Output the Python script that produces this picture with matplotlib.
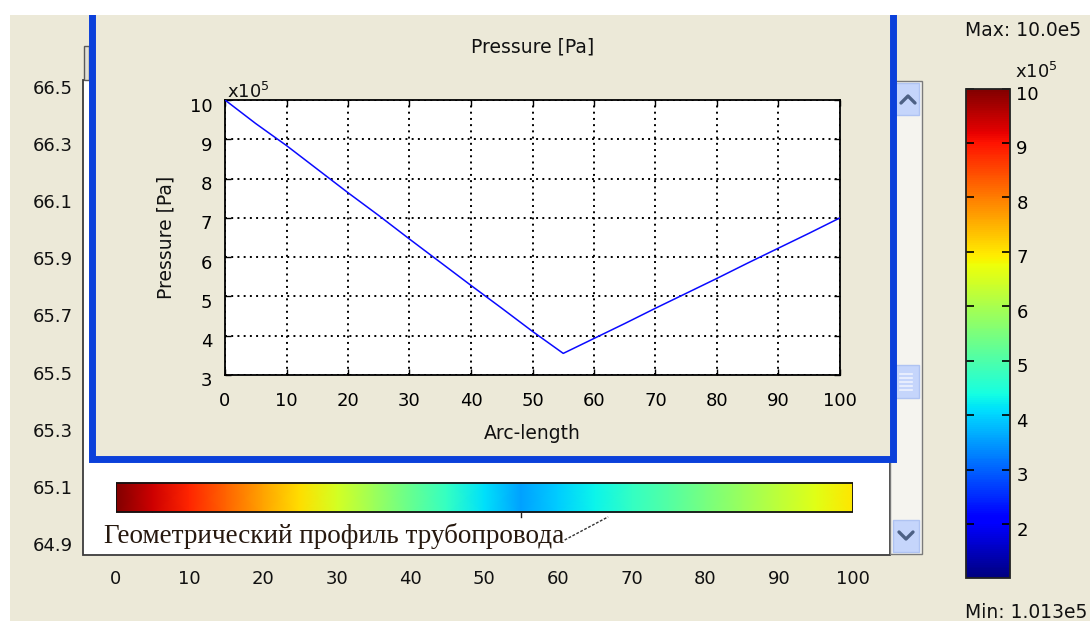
import numpy as np
import matplotlib
matplotlib.use('Agg')
import matplotlib.pyplot as plt
from matplotlib.patches import Rectangle
from matplotlib.colors import Normalize
from matplotlib.cm import ScalarMappable
from matplotlib.transforms import ScaledTranslation

# ---------------- data ----------------
arc_length = [0, 5, 10, 15, 20, 25, 30, 35, 40, 45, 50, 55,
              60, 65, 70, 75, 80, 85, 90, 95, 100]
pressure_e5 = [10.00, 9.40, 8.84, 8.24, 7.64, 7.06, 6.46, 5.87, 5.28, 4.70, 4.11, 3.55,
               3.93, 4.31, 4.70, 5.08, 5.46, 5.85, 6.23, 6.61, 7.00]

inner_xticks = [0, 10, 20, 30, 40, 50, 60, 70, 80, 90, 100]
inner_yticks = [3, 4, 5, 6, 7, 8, 9, 10]
outer_xticks = [0, 10, 20, 30, 40, 50, 60, 70, 80, 90, 100]
outer_yticks = [64.9, 65.1, 65.3, 65.5, 65.7, 65.9, 66.1, 66.3, 66.5]
cbar_ticks = [2, 3, 4, 5, 6, 7, 8, 9, 10]
p_min_e5 = 1.013
p_max_e5 = 10.0

plot_title = 'Pressure [Pa]'
x_label = 'Arc-length'
y_label = 'Pressure [Pa]'
pipe_label = 'Геометрический профиль трубопровода'
max_text = 'Max: 10.0e5'
min_text = 'Min: 1.013e5'

# ---------------- figure ----------------
plt.rcParams['font.family'] = ['DejaVu Sans']
W, H = 1090, 621
BEIGE = '#ECE9D8'
BLUE = '#0B40DA'
fig = plt.figure(figsize=(W / 100, H / 100), dpi=100)
fig.patch.set_facecolor(BEIGE)


def fpos(x0, y0, x1, y1):
    return [x0 / W, 1 - y1 / H, (x1 - x0) / W, (y1 - y0) / H]


# background chrome (pixel coordinates)
bg = fig.add_axes([0, 0, 1, 1], zorder=0)
bg.set_xlim(0, W)
bg.set_ylim(H, 0)
bg.axis('off')
bg.add_patch(Rectangle((0, 0), W, H, fc=BEIGE, ec='none', zorder=0))

# white outer panel
bg.add_patch(Rectangle((83, 80), 890 - 83, 555 - 80, fc='white', ec='#3c3c3c', lw=1.3, zorder=1))
bg.add_patch(Rectangle((84, 46), 5, 34, fc='#E2E0D6', ec='#5a5a5a', lw=1.0, zorder=1))

# scrollbar
bg.add_patch(Rectangle((890, 81), 32, 473, fc='#F5F4EF', ec='#7a7a7a', lw=1.0, zorder=2))
for (yy, hh) in [(83, 32), (365, 33), (520, 32)]:
    bg.add_patch(Rectangle((893, yy), 26, hh, fc='#C5D5FB', ec='#AFC3F2', lw=1.0, zorder=3))
bg.plot([901, 908, 915], [103, 96, 103], color='#4D6185', lw=2.4, zorder=4, solid_capstyle='round')
bg.plot([899, 906, 913], [532, 539, 532], color='#4D6185', lw=2.4, zorder=4, solid_capstyle='round')
for yy in [374, 378, 382, 386, 390]:
    bg.plot([900, 912], [yy, yy], color='#EEF3FE', lw=1.2, zorder=4)

# inset frame
bg.add_patch(Rectangle((92, 15), 892.5 - 92, 459 - 15, fc=BEIGE, ec='none', zorder=5))
bg.plot([92, 92, 892.5, 892.5], [15, 459, 459, 15], color=BLUE, lw=5.0,
        solid_joinstyle='miter', zorder=6)

# white strips at top/left
bg.add_patch(Rectangle((0, 0), W, 15, fc='white', ec='none', zorder=10))
bg.add_patch(Rectangle((0, 0), 10, H, fc='white', ec='none', zorder=10))

# texts for colorbar
bg.text(965, 30, max_text, fontsize=13.5, ha='left', va='center', color='#111111', zorder=11)
bg.text(965, 612, min_text, fontsize=13.5, ha='left', va='center', color='#111111', zorder=11)
bg.text(1015, 78, r'x10$^{5}$', fontsize=13, ha='left', va='baseline', color='#111111', zorder=11)

norm = Normalize(vmin=p_min_e5, vmax=p_max_e5)
cmap = plt.get_cmap('jet')

# ---------------- outer axes ----------------
ax_o = fig.add_axes(fpos(115.5, 87, 853, 544), zorder=1)
ax_o.set_facecolor('none')
ax_o.set_xlim(0, 100)
ax_o.set_ylim(64.9, 66.5)
for s in ax_o.spines.values():
    s.set_visible(False)
ax_o.set_xticks(outer_xticks)
ax_o.set_xticklabels([str(v) for v in outer_xticks])
ax_o.set_yticks(outer_yticks)
ax_o.set_yticklabels(['%.1f' % v for v in outer_yticks])
ax_o.tick_params(axis='x', length=0, pad=19, labelsize=13, labelcolor='#111111')
ax_o.tick_params(axis='y', length=0, pad=31, labelsize=13, labelcolor='#111111')

# pipe profile bar coloured by pressure
bar_bot, bar_top = 65.012, 65.1136
xa = np.asarray(arc_length, dtype=float)
pa = np.asarray(pressure_e5, dtype=float)
X = np.vstack([xa, xa])
Y = np.vstack([np.full_like(xa, bar_bot), np.full_like(xa, bar_top)])
C = np.vstack([pa, pa])
ax_o.pcolormesh(X, Y, C, cmap=cmap, norm=norm, shading='gouraud', zorder=2)
ax_o.add_patch(Rectangle((xa[0], bar_bot), xa[-1] - xa[0], bar_top - bar_bot,
                         fill=False, ec='#111111', lw=1.3, zorder=3))
x_min_p = xa[int(np.argmin(pa))]
ax_o.plot([x_min_p, x_min_p], [bar_bot, bar_bot - 0.018], color='#222222', lw=1.0, zorder=3)
ax_o.text(-1.5, 64.903, pipe_label, family=['Liberation Serif', 'DejaVu Serif'], fontsize=19.5,
          ha='left', va='baseline', color='#26180e', zorder=4)
ax_o.plot([60.9, 66.8], [64.914, 64.995], color='#333333', lw=1.0, ls=(0, (2, 1.2)), zorder=4)

# ---------------- inner axes ----------------
ax = fig.add_axes(fpos(225, 100, 840, 375), zorder=2)
ax.set_facecolor('white')
ax.plot(arc_length, pressure_e5, color='#0A0AFF', lw=1.1, zorder=3)
ax.set_xlim(0, 100)
ax.set_ylim(3, 10)
ax.set_xticks(inner_xticks)
ax.set_yticks(inner_yticks)
ax.grid(True, color='black', lw=1.4, linestyle=(0, (1, 2.2)))
ax.tick_params(direction='in', top=True, right=True, length=4.5, width=1.0,
               labelsize=13, colors='black')
ax.tick_params(axis='x', pad=12)
ax.tick_params(axis='y', pad=9)
for s in ax.spines.values():
    s.set_linewidth(1.3)
    s.set_color('black')
ax.set_title(plot_title, fontsize=13.5, pad=34.5, color='#111111')
ax.set_xlabel(x_label, fontsize=13.5, labelpad=10.5, color='#111111')
ax.set_ylabel(y_label, fontsize=13.5, labelpad=10.5, color='#111111')
ax.text(0.004, 1.007, r'x10$^{5}$', transform=ax.transAxes, fontsize=13,
        ha='left', va='baseline', color='#111111')

# ---------------- colorbar ----------------
cax = fig.add_axes(fpos(966, 88.5, 1010, 578), zorder=2)
cb = fig.colorbar(ScalarMappable(norm=norm, cmap=cmap), cax=cax)
cb.set_ticks(cbar_ticks)
cb.set_ticklabels([str(v) for v in cbar_ticks])
cb.outline.set_linewidth(1.3)
cb.outline.set_edgecolor('#222222')
cax.tick_params(direction='in', left=True, right=True, length=6, width=1.2,
                labelsize=13, pad=4.5, colors='black')

# shift vertical-axis tick labels slightly downward, as in the reference
shift = ScaledTranslation(0, -4.5 / 100, fig.dpi_scale_trans)
for t in cax.yaxis.get_major_ticks():
    t.label2.set_transform(t.label2.get_transform() + shift)
for t in ax.yaxis.get_major_ticks():
    t.label1.set_transform(t.label1.get_transform() + shift)

fig.savefig('out.png', dpi=100, facecolor=BEIGE)
